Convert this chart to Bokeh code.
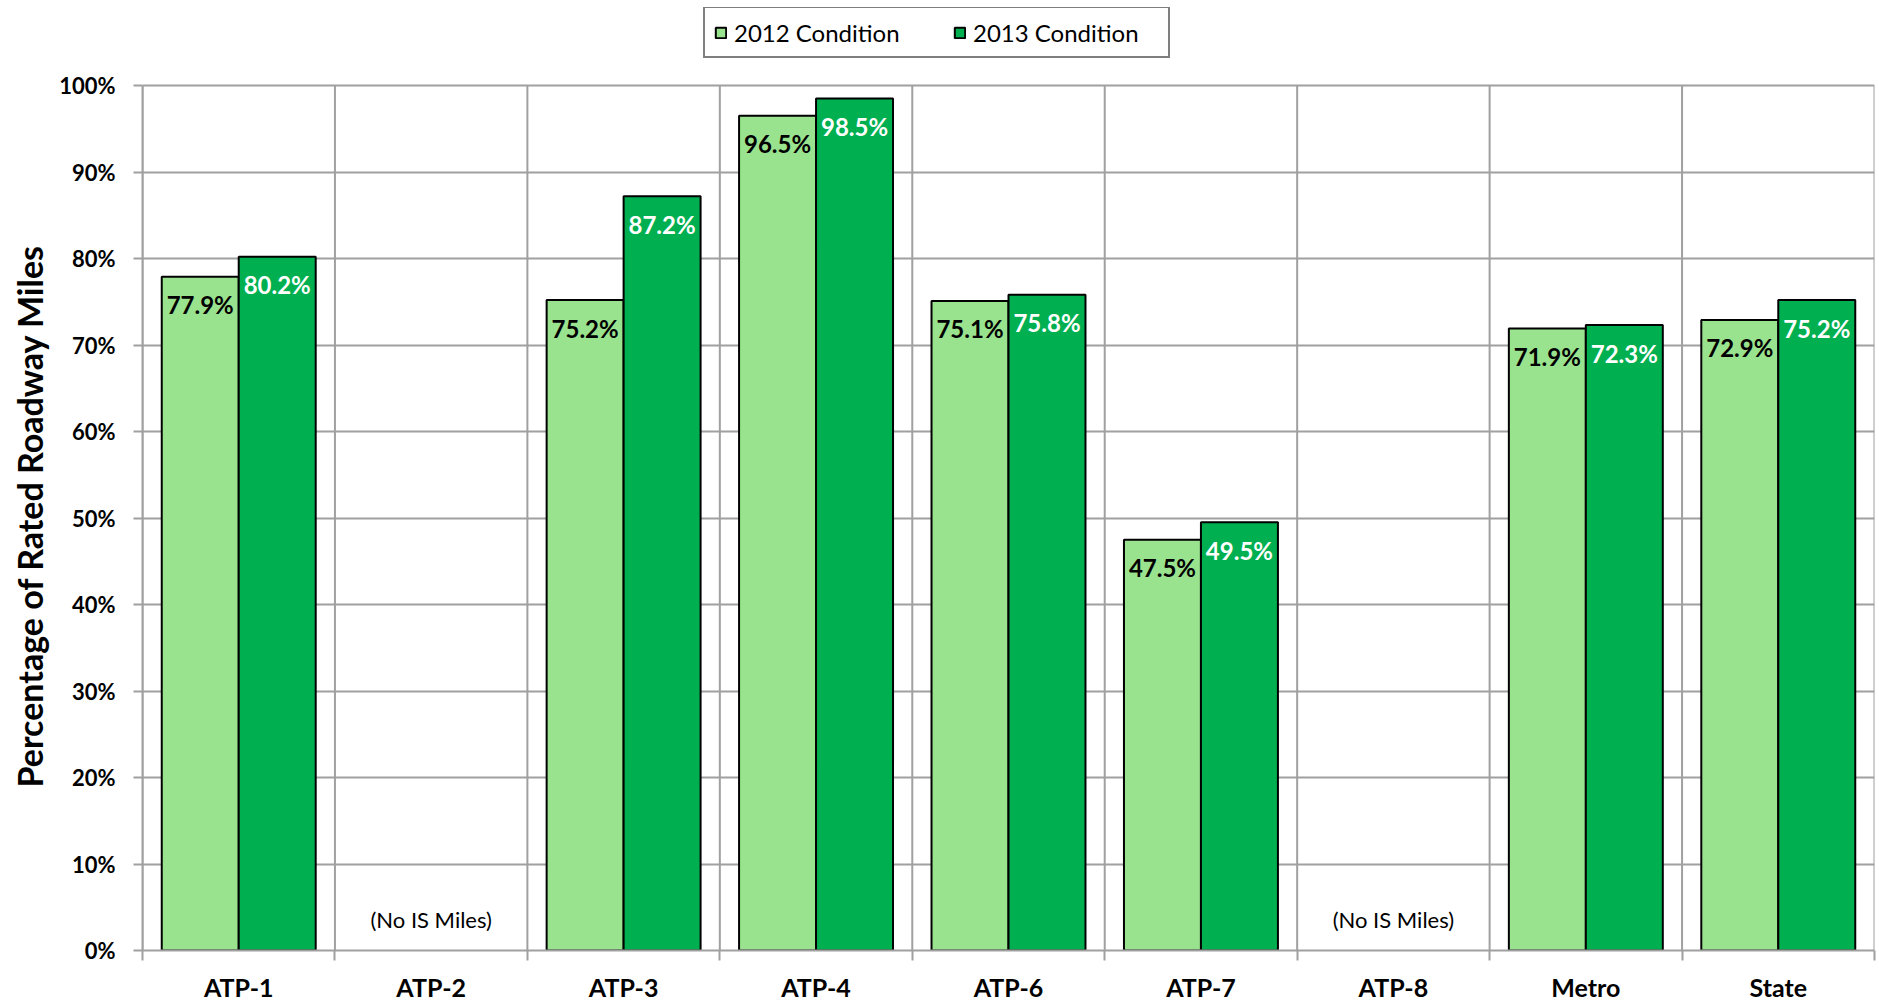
from bokeh.plotting import figure
from bokeh.models import (ColumnDataSource, Range1d, FixedTicker, NumeralTickFormatter,
                          Legend, LegendItem, LabelSet, Title)
from bokeh.transform import dodge
from bokeh.core.properties import value
from bokeh.embed import file_html
from bokeh.resources import INLINE

# Interstate pavement condition by district
categories = ["ATP-1", "ATP-2", "ATP-3", "ATP-4", "ATP-6", "ATP-7", "ATP-8", "Metro", "State"]
cond_2012 = [77.9, None, 75.2, 96.5, 75.1, 47.5, None, 71.9, 72.9]
cond_2013 = [80.2, None, 87.2, 98.5, 75.8, 49.5, None, 72.3, 75.2]
no_data_note = "(No IS Miles)"
y_ticks = [i / 10 for i in range(11)]
y_title = "Percentage of Rated Roadway Miles"

LIGHT = "#9AE38E"
DARK = "#00B050"
GRID = "#A0A0A0"
FONT = "Lato"

centers = [i + 0.5 for i in range(len(categories))]
bounds = list(range(len(categories) + 1))


def series_source(vals):
    rows = [(c, v) for c, v in zip(centers, vals) if v is not None]
    return ColumnDataSource(dict(
        x=[r[0] for r in rows],
        top=[r[1] / 100 for r in rows],
        label=[f"{r[1]:.1f}%" for r in rows],
    ))


src12 = series_source(cond_2012)
src13 = series_source(cond_2013)

note_x = [c for c, v in zip(centers, cond_2012) if v is None]
note_src = ColumnDataSource(dict(x=note_x, y=[0.036] * len(note_x), text=[no_data_note] * len(note_x)))

# the frame reaches up to the legend; data area is 0..100% with headroom above
p = figure(width=1879, height=1004, output_backend="svg", toolbar_location=None,
           x_range=Range1d(0, len(categories)), y_range=Range1d(0, 1.0902),
           min_border_left=140, min_border_right=5, min_border_top=7, min_border_bottom=54)
p.outline_line_color = None
p.background_fill_color = "white"

# category separators (vertical grid) spanning 0..100%
p.segment(x0=bounds, y0=[0] * len(bounds), x1=bounds, y1=[1] * len(bounds),
          line_color=GRID, line_width=2)

r12 = p.vbar(x=dodge("x", -0.2), top="top", width=0.4, bottom=0, source=src12,
             fill_color=LIGHT, line_color="black", line_width=2)
r13 = p.vbar(x=dodge("x", 0.2), top="top", width=0.4, bottom=0, source=src13,
             fill_color=DARK, line_color="black", line_width=2)

lab12 = LabelSet(x=dodge("x", -0.2), y="top", text="label", source=src12,
                 text_align="center", text_baseline="middle", y_offset=-28,
                 text_font=value(FONT), text_font_style="bold", text_font_size="24px",
                 text_color="black")
lab13 = LabelSet(x=dodge("x", 0.2), y="top", text="label", source=src13,
                 text_align="center", text_baseline="middle", y_offset=-28,
                 text_font=value(FONT), text_font_style="bold", text_font_size="24px",
                 text_color="white")
p.add_layout(lab12)
p.add_layout(lab13)

p.text(x="x", y="y", text="text", source=note_src, text_align="center", text_baseline="middle",
       text_font=value(FONT), text_font_size="22px", text_color="black")

# x axis: category names at centers, tick marks at category boundaries
p.xaxis.ticker = FixedTicker(ticks=centers, minor_ticks=bounds)
p.xaxis.major_label_overrides = {c: name for c, name in zip(centers, categories)}
p.xaxis.major_tick_line_color = None
p.xaxis.major_tick_in = 0
p.xaxis.major_tick_out = 0
p.xaxis.minor_tick_in = 0
p.xaxis.minor_tick_out = 10
p.xaxis.minor_tick_line_color = GRID
p.xaxis.minor_tick_line_width = 2
p.xaxis.axis_line_color = GRID
p.xaxis.axis_line_width = 2
p.xaxis.major_label_standoff = 11
p.xaxis.major_label_text_font = FONT
p.xaxis.major_label_text_font_style = "bold"
p.xaxis.major_label_text_font_size = "25px"
p.xaxis.major_label_text_color = "black"

# y axis in percent
p.yaxis.bounds = (0, 1)
p.yaxis.ticker = FixedTicker(ticks=y_ticks)
p.yaxis.formatter = NumeralTickFormatter(format="0%")
p.yaxis.major_tick_in = 0
p.yaxis.major_tick_out = 9
p.yaxis.major_tick_line_color = GRID
p.yaxis.major_tick_line_width = 2
p.yaxis.minor_tick_line_color = None
p.yaxis.axis_line_color = GRID
p.yaxis.axis_line_width = 2
p.yaxis.major_label_standoff = 18
p.yaxis.major_label_text_font = FONT
p.yaxis.major_label_text_font_style = "bold"
p.yaxis.major_label_text_font_size = "22px"
p.yaxis.major_label_text_color = "black"

# y title centred on the 0..100% span rather than the whole frame
p.add_layout(Title(text=y_title, align="left", offset=163, standoff=13,
                   text_font=FONT, text_font_style="bold", text_font_size="34px",
                   text_color="black"), "left")

p.ygrid.ticker = FixedTicker(ticks=y_ticks)
p.ygrid.grid_line_color = GRID
p.ygrid.grid_line_width = 2
p.xgrid.visible = False

legend = Legend(items=[LegendItem(label="2012 Condition", renderers=[r12]),
                       LegendItem(label="2013 Condition", renderers=[r13])],
                orientation="horizontal", location=(561, 892),
                glyph_width=13, glyph_height=13, label_standoff=7, spacing=33,
                label_width=186, label_height=30, padding=9, margin=0,
                label_text_font=FONT, label_text_font_size="24px", label_text_color="black",
                border_line_color="black", border_line_width=2,
                background_fill_color="white", background_fill_alpha=1)
p.add_layout(legend)

open("out.html", "w").write(file_html(p, INLINE))
